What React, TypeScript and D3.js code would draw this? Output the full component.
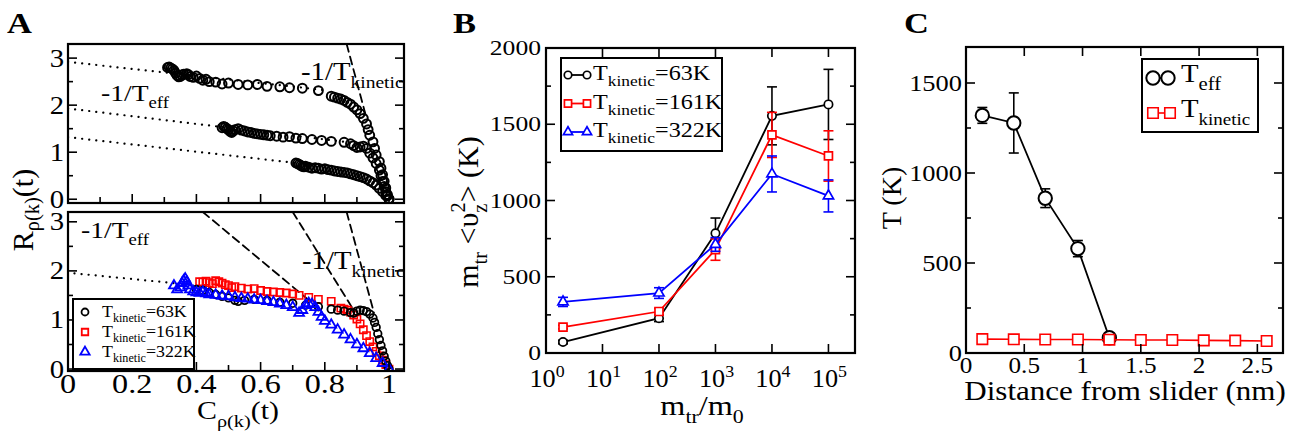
import React, { useEffect, useRef } from "react";
import * as d3 from "d3";

const FONT = "'Liberation Serif', 'Times New Roman', serif";
const RED = "#ff0000";
const BLUE = "#0000ff";
const SX = 1.15; // the figure text is a little wide

// ---- panel A, upper plot: R vs C for three runs, [C, R]
const aTopRun1 = [
  [0.31, 2.8], [0.315, 2.81], [0.32, 2.79], [0.325, 2.77], [0.33, 2.74], [0.335, 2.68], [0.34, 2.63],
  [0.345, 2.6], [0.35, 2.61], [0.355, 2.64], [0.36, 2.66], [0.37, 2.67], [0.375, 2.65], [0.38, 2.61],
  [0.39, 2.59], [0.4, 2.62], [0.41, 2.57], [0.42, 2.53], [0.43, 2.55], [0.44, 2.5], [0.46, 2.49],
  [0.48, 2.45], [0.5, 2.47], [0.53, 2.44], [0.56, 2.43], [0.59, 2.44], [0.62, 2.4], [0.66, 2.39],
  [0.69, 2.37], [0.73, 2.36], [0.78, 2.31], [0.82, 2.19], [0.83, 2.17], [0.84, 2.15], [0.85, 2.13],
  [0.86, 2.1], [0.87, 2.06], [0.88, 2.02], [0.89, 1.96], [0.9, 1.9], [0.91, 1.82], [0.92, 1.72],
  [0.93, 1.6], [0.935, 1.48], [0.94, 1.36], [0.95, 1.22], [0.955, 1.08], [0.96, 0.94], [0.97, 0.8],
  [0.975, 0.66], [0.98, 0.52], [0.985, 0.38], [0.99, 0.24], [0.995, 0.1], [1.0, 0.01],
];
const aTopRun2 = [
  [0.48, 1.52], [0.485, 1.55], [0.49, 1.53], [0.495, 1.5], [0.5, 1.48], [0.505, 1.44], [0.51, 1.42],
  [0.515, 1.45], [0.52, 1.48], [0.53, 1.5], [0.54, 1.47], [0.55, 1.45], [0.56, 1.43], [0.57, 1.42],
  [0.58, 1.4], [0.59, 1.39], [0.6, 1.38], [0.61, 1.37], [0.62, 1.36], [0.63, 1.35], [0.65, 1.34],
  [0.67, 1.32], [0.69, 1.33], [0.71, 1.3], [0.73, 1.29], [0.76, 1.27], [0.79, 1.25], [0.82, 1.23],
  [0.86, 1.21], [0.88, 1.18], [0.89, 1.14], [0.9, 1.1], [0.91, 1.11], [0.92, 1.13], [0.93, 1.08],
  [0.94, 0.98], [0.95, 0.88], [0.96, 0.76], [0.97, 0.62], [0.975, 0.5], [0.98, 0.38], [0.985, 0.27],
  [0.99, 0.16], [0.995, 0.07], [1.0, 0.0],
];
const aTopRun3 = [
  [0.71, 0.77], [0.715, 0.76], [0.72, 0.74], [0.725, 0.72], [0.73, 0.7], [0.735, 0.69], [0.74, 0.7],
  [0.75, 0.68], [0.76, 0.66], [0.77, 0.67], [0.78, 0.66], [0.79, 0.64], [0.8, 0.65], [0.81, 0.63],
  [0.82, 0.62], [0.83, 0.6], [0.84, 0.59], [0.85, 0.58], [0.86, 0.57], [0.87, 0.56], [0.88, 0.54],
  [0.89, 0.52], [0.9, 0.5], [0.91, 0.48], [0.92, 0.46], [0.93, 0.43], [0.94, 0.39], [0.95, 0.35],
  [0.96, 0.3], [0.97, 0.23], [0.98, 0.16], [0.99, 0.08], [1.0, 0.0],
];
const aTopDotted = [
  [[0, 2.92], [0.8, 2.32]],
  [[0, 1.93], [0.9, 1.19]],
  [[0, 1.32], [0.75, 0.74]],
];
const aTopDashed = [[[0.868, 3.3], [0.93, 1.72]]];

// ---- panel A, lower plot: three kinetic temperatures
const aBot63 = [
  [0.4, 1.62], [0.42, 1.6], [0.44, 1.56], [0.46, 1.52], [0.48, 1.48], [0.5, 1.45], [0.52, 1.4],
  [0.53, 1.38], [0.55, 1.4], [0.58, 1.42], [0.62, 1.4], [0.66, 1.36], [0.7, 1.34], [0.74, 1.3],
  [0.78, 1.27], [0.82, 1.22], [0.84, 1.2], [0.86, 1.18], [0.88, 1.15], [0.89, 1.14], [0.9, 1.18],
  [0.91, 1.2], [0.92, 1.19], [0.93, 1.17], [0.94, 1.12], [0.95, 1.04], [0.955, 0.95], [0.96, 0.85],
  [0.965, 0.72], [0.97, 0.6], [0.975, 0.48], [0.98, 0.37], [0.985, 0.26], [0.99, 0.16], [0.995, 0.07],
  [1.0, 0.0],
];
const aBot161 = [
  [0.41, 1.78], [0.42, 1.77], [0.43, 1.79], [0.44, 1.76], [0.45, 1.74], [0.46, 1.8], [0.47, 1.78],
  [0.48, 1.75], [0.49, 1.72], [0.5, 1.7], [0.51, 1.66], [0.52, 1.68], [0.54, 1.65], [0.56, 1.63],
  [0.58, 1.64], [0.6, 1.6], [0.62, 1.58], [0.64, 1.57], [0.66, 1.56], [0.68, 1.55], [0.7, 1.53],
  [0.72, 1.5], [0.75, 1.46], [0.78, 1.42], [0.82, 1.38], [0.85, 1.24], [0.86, 1.22], [0.87, 1.2],
  [0.88, 1.16], [0.89, 1.1], [0.9, 1.02], [0.91, 0.92], [0.92, 0.8], [0.93, 0.68], [0.94, 0.56],
  [0.95, 0.45], [0.96, 0.36], [0.97, 0.27], [0.98, 0.18], [0.99, 0.09], [1.0, 0.0],
];
const aBot322 = [
  [0.33, 1.7], [0.34, 1.62], [0.35, 1.66], [0.355, 1.75], [0.36, 1.8], [0.365, 1.84], [0.37, 1.78],
  [0.375, 1.7], [0.38, 1.62], [0.39, 1.58], [0.4, 1.56], [0.41, 1.55], [0.42, 1.57], [0.43, 1.54],
  [0.44, 1.52], [0.46, 1.51], [0.48, 1.49], [0.5, 1.48], [0.52, 1.46], [0.54, 1.44], [0.56, 1.43],
  [0.58, 1.41], [0.6, 1.4], [0.62, 1.38], [0.64, 1.36], [0.66, 1.33], [0.68, 1.3], [0.7, 1.26],
  [0.72, 1.14], [0.73, 1.2], [0.74, 1.3], [0.75, 1.34], [0.76, 1.32], [0.77, 1.26], [0.78, 1.16],
  [0.79, 1.06], [0.8, 0.98], [0.82, 0.9], [0.84, 0.8], [0.86, 0.7], [0.88, 0.6], [0.9, 0.5],
  [0.92, 0.42], [0.94, 0.32], [0.96, 0.22], [0.98, 0.12], [1.0, 0.0],
];
const aBotDotted = [[[0.02, 1.95], [0.33, 1.75]]];
const aBotDashed = [
  [[0.42, 3.2], [0.76, 1.35]],
  [[0.7, 3.2], [0.89, 1.2]],
  [[0.868, 3.2], [0.953, 1.15]],
];
const aXTicks = [0, 0.2, 0.4, 0.6, 0.8, 1];
const aXMinor = [0.1, 0.3, 0.5, 0.7, 0.9];
const aYTicks = [0, 1, 2, 3];
const aYMinor = [0.5, 1.5, 2.5];

// ---- panel B: m_tr <v_z^2> vs mass ratio
const bMass = [2, 100, 1000, 10000, 100000];
const b63 = [72, 228, 785, 1555, 1630];
const b63Err = [12, 22, 100, 190, 230];
const b161 = [170, 272, 678, 1430, 1292];
const b161Err = [12, 20, 70, 148, 165];
const b322 = [335, 393, 712, 1174, 1030];
const b322Err = [30, 35, 45, 118, 105];
const bXTicks = [1, 10, 100, 1000, 10000, 100000];
const bYTicks = [0, 500, 1000, 1500, 2000];
const bYMinor = [250, 750, 1250, 1750];

// ---- panel C: temperature vs distance
const cDist = [0.14, 0.41, 0.68, 0.96, 1.23, 1.5, 1.77, 2.04, 2.31, 2.58];
const cTeff = [1320, 1278, 860, 580, 85];
const cTeffErr = [44, 167, 52, 45, 0];
const cTkin = [77, 76, 75, 75, 74, 72, 72, 70, 69, 67];
const cXTicks = [0, 0.5, 1, 1.5, 2, 2.5];
const cYTicks = [0, 500, 1000, 1500];
const cYMinor = [250, 750, 1250];

const kinLabels = ["=63K", "=161K", "=322K"];

type Part = { t: string; sub?: boolean; sup?: boolean; dx?: number };

function rich(parent: any, x: number, y: number, parts: Part[], size: number, o: any = {}) {
  const g = parent
    .append("g")
    .attr("transform", `translate(${x},${y}) rotate(${o.rot ?? 0}) scale(${o.sx ?? SX},1)`);
  const text = g
    .append("text")
    .attr("font-family", FONT)
    .attr("font-size", size)
    .attr("text-anchor", o.anchor ?? "start")
    .attr("font-weight", o.bold ? "bold" : "normal")
    .attr("fill", o.fill ?? "#000");
  let shift = 0;
  parts.forEach((p) => {
    const target = p.sub ? size * (o.subShift ?? 0.3) : p.sup ? -size * 0.42 : 0;
    const ts = text
      .append("tspan")
      .attr("font-size", p.sub || p.sup ? size * (o.subScale ?? 0.68) : size)
      .attr("dy", target - shift)
      .text(p.t);
    if (p.dx) ts.attr("dx", p.dx);
    shift = target;
  });
  return text;
}

function frame(g: any, x: any, y: any, t: any) {
  const [x0, x1] = x.range();
  const [y0, y1] = y.range();
  const tick = (a: number, b: number, c: number, d: number) =>
    g.append("line").attr("x1", a).attr("y1", b).attr("x2", c).attr("y2", d)
      .attr("stroke", "#000").attr("stroke-width", 1.6);
  (t.xMaj || []).forEach((v: number) => {
    tick(x(v), y0, x(v), y0 - 9);
    if (t.top) tick(x(v), y1, x(v), y1 + 9);
  });
  (t.xMin || []).forEach((v: number) => tick(x(v), y0, x(v), y0 - 6));
  (t.yMaj || []).forEach((v: number) => {
    tick(x0, y(v), x0 + 9, y(v));
    tick(x1, y(v), x1 - 9, y(v));
  });
  (t.yMin || []).forEach((v: number) => {
    tick(x0, y(v), x0 + 5, y(v));
    tick(x1, y(v), x1 - 5, y(v));
  });
  g.append("rect").attr("x", x0).attr("y", y1).attr("width", x1 - x0).attr("height", y0 - y1)
    .attr("fill", "none").attr("stroke", "#000").attr("stroke-width", 2.2);
}

const sym = (type: any, size: number) => d3.symbol().type(type).size(size)();

function markers(g: any, pts: any[], x: any, y: any, type: any, size: number, color: string, w: number, fill = "none") {
  g.append("g")
    .selectAll("path")
    .data(pts)
    .join("path")
    .attr("transform", (d: any) => `translate(${x(d[0])},${y(d[1])})`)
    .attr("d", sym(type, size))
    .attr("fill", fill)
    .attr("stroke", color)
    .attr("stroke-width", w);
}

function guides(g: any, segs: any[], x: any, y: any, dash: string, w: number) {
  const line = d3.line<any>().x((d) => x(d[0])).y((d) => y(d[1]));
  segs.forEach((s) =>
    g.append("path").attr("d", line(s)).attr("fill", "none").attr("stroke", "#000")
      .attr("stroke-width", w).attr("stroke-dasharray", dash).attr("stroke-linecap", "round")
  );
}

function errorBars(g: any, xs: number[], ys: number[], errs: number[], x: any, y: any, color: string, cap: number) {
  xs.forEach((xv, i) => {
    const e = errs[i];
    if (!e) return;
    const px = x(xv);
    const top = y(ys[i] + e);
    const bot = y(ys[i] - e);
    const grp = g.append("g").attr("stroke", color).attr("stroke-width", 1.6);
    grp.append("line").attr("x1", px).attr("x2", px).attr("y1", top).attr("y2", bot);
    grp.append("line").attr("x1", px - cap).attr("x2", px + cap).attr("y1", top).attr("y2", top);
    grp.append("line").attr("x1", px - cap).attr("x2", px + cap).attr("y1", bot).attr("y2", bot);
  });
}

export default function App() {
  const ref = useRef<SVGSVGElement>(null);

  useEffect(() => {
    const svg = d3.select(ref.current);
    svg.selectAll("*").remove();
    const defs = svg.append("defs");
    const clip = (id: string, x: any, y: any) => {
      const [x0, x1] = x.range();
      const [y0, y1] = y.range();
      defs.append("clipPath").attr("id", id).append("rect")
        .attr("x", x0).attr("y", y1).attr("width", x1 - x0).attr("height", y0 - y1);
    };

    // ================= panel A =================
    const ax = d3.scaleLinear().domain([0, 1.0467]).range([68, 404]);
    const ayTop = d3.scaleLinear().domain([-0.08, 3.3]).range([203, 44]);
    const ayBot = d3.scaleLinear().domain([-0.04, 3.2]).range([371, 212]);
    clip("clipAT", ax, ayTop);
    clip("clipAB", ax, ayBot);

    const aTop = svg.append("g");
    const aTopData = aTop.append("g").attr("clip-path", "url(#clipAT)");
    guides(aTopData, aTopDotted, ax, ayTop, "0.1 7", 2.2);
    guides(aTopData, aTopDashed, ax, ayTop, "8 5", 1.8);
    [aTopRun1, aTopRun2, aTopRun3].forEach((run) =>
      markers(aTopData, run, ax, ayTop, d3.symbolCircle, 62, "#000", 2)
    );
    frame(aTop, ax, ayTop, { xMaj: aXTicks, xMin: aXMinor, yMaj: aYTicks, yMin: aYMinor });
    aYTicks.forEach((v) => rich(aTop, 64, ayTop(v) + 8.5, [{ t: String(v) }], 25, { anchor: "end" }));
    rich(aTop, 301, 80, [{ t: "-1/T" }, { t: "kinetic", sub: true }], 25);
    rich(aTop, 101, 101, [{ t: "-1/T" }, { t: "eff", sub: true }], 24);

    const aBot = svg.append("g");
    const aBotData = aBot.append("g").attr("clip-path", "url(#clipAB)");
    guides(aBotData, aBotDotted, ax, ayBot, "0.1 7", 2.2);
    guides(aBotData, aBotDashed, ax, ayBot, "8 5", 1.8);
    markers(aBotData, aBot161, ax, ayBot, d3.symbolSquare, 52, RED, 1.6);
    markers(aBotData, aBot63, ax, ayBot, d3.symbolCircle, 45, "#000", 1.8);
    markers(aBotData, aBot322, ax, ayBot, d3.symbolTriangle, 42, BLUE, 1.8);
    frame(aBot, ax, ayBot, { xMaj: aXTicks, xMin: aXMinor, yMaj: aYTicks, yMin: aYMinor });
    aYTicks.forEach((v) => rich(aBot, 64, ayBot(v) + 8.5, [{ t: String(v) }], 25, { anchor: "end" }));
    aXTicks.forEach((v) => rich(aBot, ax(v), 393, [{ t: String(v) }], 28, { anchor: "middle" }));
    rich(aBot, 81, 238, [{ t: "-1/T" }, { t: "eff", sub: true }], 24);
    rich(aBot, 302, 269, [{ t: "-1/T" }, { t: "kinetic", sub: true }], 25);

    // legend
    const aLeg = aBot.append("g");
    aLeg.append("rect").attr("x", 73).attr("y", 299).attr("width", 121).attr("height", 70)
      .attr("fill", "#fff").attr("stroke", "#000").attr("stroke-width", 2);
    const aLegSym = [
      { type: d3.symbolCircle, size: 38, color: "#000" },
      { type: d3.symbolSquare, size: 42, color: RED },
      { type: d3.symbolTriangle, size: 38, color: BLUE },
    ];
    aLegSym.forEach((s, i) => {
      const cy = 312 + i * 20;
      aLeg.append("path").attr("transform", `translate(85,${cy})`).attr("d", sym(s.type, s.size))
        .attr("fill", "none").attr("stroke", s.color).attr("stroke-width", 1.8);
      rich(aLeg, 102, cy + 5, [{ t: "T" }, { t: "kinetic", sub: true }, { t: kinLabels[i] }], 17, { sx: 1.05 });
    });

    rich(svg, 33, 210, [{ t: "R" }, { t: "ρ(k)", sub: true }, { t: "(t)" }], 30, {
      rot: -90, anchor: "middle", sx: 1, subShift: 0.2,
    });
    rich(svg, 238, 419, [{ t: "C" }, { t: "ρ(k)", sub: true }, { t: "(t)" }], 26, { anchor: "middle" });
    rich(svg, 7, 33, [{ t: "A" }], 30, { bold: true });

    // ================= panel B =================
    const bx = d3.scaleLog().domain([1, Math.pow(10, 5.47)]).range([546, 855]);
    const by = d3.scaleLinear().domain([0, 2000]).range([353, 48]);
    const bG = svg.append("g");
    const bSeries = [
      { vals: b63, err: b63Err, color: "#000", type: d3.symbolCircle, size: 55 },
      { vals: b161, err: b161Err, color: RED, type: d3.symbolSquare, size: 64 },
      { vals: b322, err: b322Err, color: BLUE, type: d3.symbolTriangle, size: 45 },
    ];
    const bLine = d3.line<number>().x((_, i) => bx(bMass[i])).y((d) => by(d));
    bSeries.forEach((s) => {
      errorBars(bG, bMass, s.vals, s.err, bx, by, s.color, 5);
      bG.append("path").attr("d", bLine(s.vals)).attr("fill", "none").attr("stroke", s.color).attr("stroke-width", 1.8);
      markers(bG, s.vals.map((v, i) => [bMass[i], v]), bx, by, s.type, s.size, s.color, 1.7, "#fff");
    });
    frame(bG, bx, by, { xMaj: bXTicks, top: true, yMaj: bYTicks, yMin: bYMinor });
    bYTicks.forEach((v) => rich(bG, 541, by(v) + 7, [{ t: String(v) }], 21, { anchor: "end", sx: 1.22 }));
    bXTicks.forEach((v) =>
      rich(bG, bx(v) + 1, 387, [{ t: "10" }, { t: String(Math.round(Math.log10(v))), sup: true }], 25, { anchor: "middle", sx: 1.05 })
    );
    // legend
    const bLeg = bG.append("g");
    bLeg.append("rect").attr("x", 561).attr("y", 58).attr("width", 161).attr("height", 93)
      .attr("fill", "#fff").attr("stroke", "#000").attr("stroke-width", 2);
    bSeries.forEach((s, i) => {
      const cy = 75 + i * 28.5;
      bLeg.append("line").attr("x1", 568).attr("x2", 587).attr("y1", cy).attr("y2", cy)
        .attr("stroke", s.color).attr("stroke-width", 1.8);
      [568, 587].forEach((cx) =>
        bLeg.append("path").attr("transform", `translate(${cx},${cy})`).attr("d", sym(s.type, s.size * 0.8))
          .attr("fill", "#fff").attr("stroke", s.color).attr("stroke-width", 1.7)
      );
      rich(bLeg, 593, cy + 5, [{ t: "T" }, { t: "kinetic", sub: true }, { t: kinLabels[i] }], 21, { subScale: 0.72 });
    });
    rich(svg, 702, 415, [{ t: "m" }, { t: "tr", sub: true }, { t: "/m" }, { t: "0", sub: true }], 28, { anchor: "middle" });
    rich(
      svg, 478, 212,
      [{ t: "m" }, { t: "tr", sub: true }, { t: " <υ" }, { t: "z", sub: true }, { t: "2", sup: true, dx: -9 }, { t: "> (K)" }],
      30, { rot: -90, anchor: "middle", sx: 1 }
    );
    rich(svg, 453, 33, [{ t: "B" }], 30, { bold: true });

    // ================= panel C =================
    const cx = d3.scaleLinear().domain([0, 2.72]).range([966, 1283]);
    const cy = d3.scaleLinear().domain([0, 1700]).range([353, 47]);
    const cG = svg.append("g");
    const teffPts = cTeff.map((v, i) => [cDist[i], v]);
    const tkinPts = cTkin.map((v, i) => [cDist[i], v]);
    const cLine = d3.line<any>().x((d) => cx(d[0])).y((d) => cy(d[1]));
    errorBars(cG, cDist.slice(0, cTeff.length), cTeff, cTeffErr, cx, cy, "#000", 5);
    cG.append("path").attr("d", cLine(teffPts)).attr("fill", "none").attr("stroke", "#000").attr("stroke-width", 1.8);
    markers(cG, teffPts, cx, cy, d3.symbolCircle, 140, "#000", 2, "#fff");
    cG.append("path").attr("d", cLine(tkinPts)).attr("fill", "none").attr("stroke", RED).attr("stroke-width", 1.6);
    markers(cG, tkinPts, cx, cy, d3.symbolSquare, 110, RED, 1.6, "#fff");
    frame(cG, cx, cy, { xMaj: cXTicks.slice(1), top: true, yMaj: cYTicks, yMin: cYMinor });
    cYTicks.forEach((v) => rich(cG, 962, cy(v) + 8, [{ t: String(v) }], 23, { anchor: "end" }));
    cXTicks.forEach((v) => rich(cG, cx(v), 373, [{ t: String(v) }], 24, { anchor: "middle", sx: 1.05 }));
    // legend
    const cLeg = cG.append("g");
    cLeg.append("rect").attr("x", 1142).attr("y", 59).attr("width", 116).attr("height", 73)
      .attr("fill", "#fff").attr("stroke", "#000").attr("stroke-width", 2);
    cLeg.append("line").attr("x1", 1153).attr("x2", 1169).attr("y1", 78).attr("y2", 78).attr("stroke", "#000").attr("stroke-width", 1.8);
    [1153, 1168].forEach((px) =>
      cLeg.append("path").attr("transform", `translate(${px},78)`).attr("d", sym(d3.symbolCircle, 140))
        .attr("fill", "#fff").attr("stroke", "#000").attr("stroke-width", 2)
    );
    cLeg.append("line").attr("x1", 1153).attr("x2", 1170).attr("y1", 113).attr("y2", 113).attr("stroke", RED).attr("stroke-width", 1.6);
    [1153, 1170].forEach((px) =>
      cLeg.append("path").attr("transform", `translate(${px},113)`).attr("d", sym(d3.symbolSquare, 110))
        .attr("fill", "#fff").attr("stroke", RED).attr("stroke-width", 1.6)
    );
    rich(cLeg, 1181, 82, [{ t: "T" }, { t: "eff", sub: true }], 25, { subScale: 0.72 });
    rich(cLeg, 1181, 117, [{ t: "T" }, { t: "kinetic", sub: true }], 25, { subScale: 0.66 });
    rich(svg, 1125, 400, [{ t: "Distance from slider (nm)" }], 27, { anchor: "middle" });
    rich(svg, 901, 198, [{ t: "T (K)" }], 28, { rot: -90, anchor: "middle", sx: 1 });
    rich(svg, 904, 33, [{ t: "C" }], 30, { bold: true });
  }, []);

  return (
    <div style={{ position: "absolute", left: 0, top: 0 }}>
      <svg ref={ref} width={1305} height={435} style={{ display: "block", background: "#fff" }} />
    </div>
  );
}
